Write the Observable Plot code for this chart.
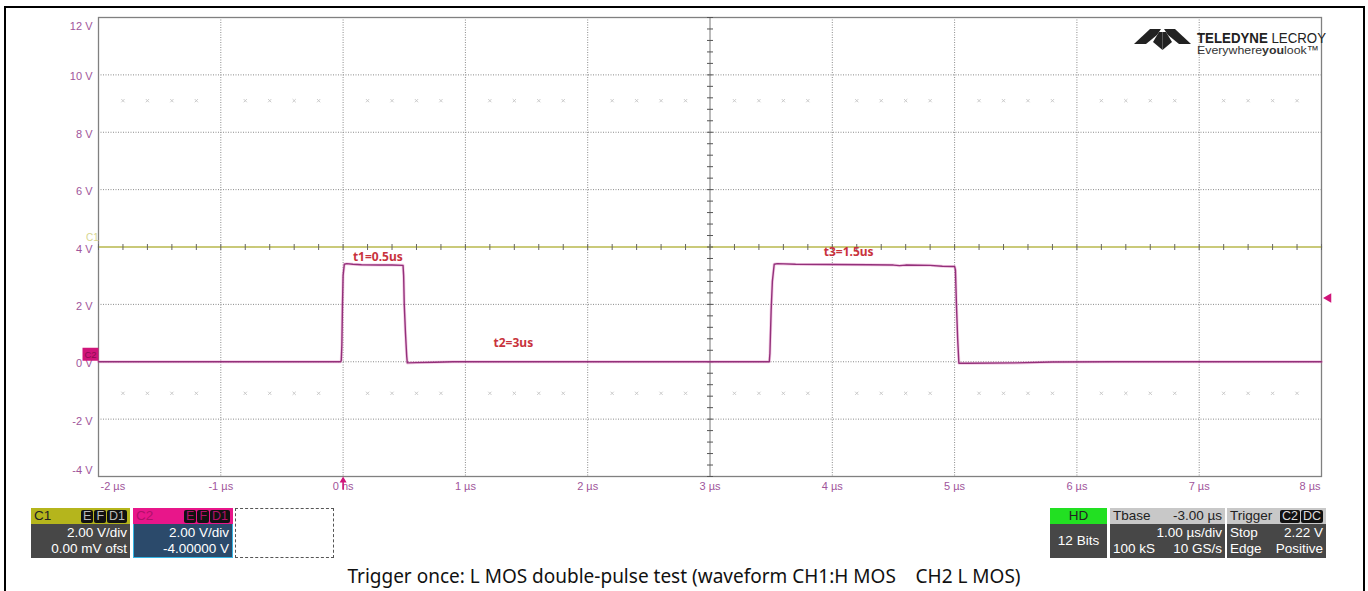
<!DOCTYPE html>
<html>
<head>
<meta charset="utf-8">
<script src="https://cdn.jsdelivr.net/npm/d3@7"></script>
<script src="https://cdn.jsdelivr.net/npm/@observablehq/plot@0.6"></script>
<style>
  body { margin: 0; background: #fff; }
  #wrap { position: relative; width: 1368px; height: 591px; overflow: hidden; background: #fff; font-family: "Liberation Sans", Arial, sans-serif; }
  #chart { position: absolute; left: 0; top: 0; }
  #frame { position: absolute; left: 4px; top: 6px; width: 1357px; height: 620px; border: 2px solid #000; }
  .box { position: absolute; top: 508px; height: 50px; box-sizing: border-box; font-size: 13.5px; color: #fff; }
  .hdr { position: absolute; left: 0; right: 0; top: 0; height: 16px; line-height: 16px; padding: 0 3px; color: #222; }
  .body { position: absolute; left: 0; right: 0; top: 16px; bottom: 0; background: #474747; padding: 1px 3px; line-height: 15.5px; }
  .r { text-align: right; }
  .tag { display: inline-block; background: #111; color: #bbb; border-radius: 2px; padding: 0 2px; margin-left: 1px; line-height: 13px; font-size: 12.5px; }
  .row { display: flex; justify-content: space-between; }
  #caption { position: absolute; left: 0; width: 1368px; top: 563px; text-align: center; font-family: "Noto Sans", sans-serif; font-size: 19px; color: #111; white-space: pre; }
</style>
</head>
<body>
<div id="wrap">
  <div id="chart"></div>
  <div id="frame"></div>

  <!-- channel boxes -->
  <div class="box" style="left:31px;width:99px;">
    <div class="hdr" style="background:#b5b51c;">C1<span style="float:right"><span class="tag">E</span><span class="tag">F</span><span class="tag">D1</span></span></div>
    <div class="body r">2.00 V/div<br>0.00 mV ofst</div>
  </div>
  <div class="box" style="left:133px;width:100px;">
    <div class="hdr" style="background:#e8168a;color:#b0106a;">C2<span style="float:right"><span class="tag" style="color:#b0106a">E</span><span class="tag" style="color:#b0106a">F</span><span class="tag" style="color:#b0106a">D1</span></span></div>
    <div class="body r" style="background:#2b4a6b;border:1px solid #35b5e5;border-top:none;">2.00 V/div<br>-4.00000 V</div>
  </div>
  <div class="box" style="left:235px;width:99px;border:1px dashed #555;"></div>

  <div class="box" style="left:1050px;width:57px;">
    <div class="hdr" style="background:#22e022;text-align:center;">HD</div>
    <div class="body" style="text-align:center;line-height:32px;">12 Bits</div>
  </div>
  <div class="box" style="left:1110px;width:115px;">
    <div class="hdr row" style="background:#c8c8c8;"><span>Tbase</span><span>-3.00 µs</span></div>
    <div class="body"><div class="r">1.00 µs/div</div><div class="row"><span>100 kS</span><span>10 GS/s</span></div></div>
  </div>
  <div class="box" style="left:1227px;width:99px;">
    <div class="hdr" style="background:#c8c8c8;">Trigger<span style="float:right"><span class="tag" style="color:#ddd">C2</span><span class="tag" style="color:#ddd">DC</span></span></div>
    <div class="body"><div class="row"><span>Stop</span><span>2.22 V</span></div><div class="row"><span>Edge</span><span>Positive</span></div></div>
  </div>

  <!-- logo -->
  <svg style="position:absolute;left:0;top:0;overflow:visible" width="1368" height="60">
    <g fill="#222">
      <polygon points="1134,44 1150,29 1161,29 1157,35 1146,44"/>
      <polygon points="1191,44 1175,29 1164,29 1168,35 1179,44"/>
      <polygon points="1159,32 1162.5,32 1162.5,50 1153,42"/>
      <polygon points="1166,32 1162.5,32 1162.5,50 1172,42"/>
    </g>
    <text x="1197" y="43" font-family="Liberation Sans, Arial" font-size="14" fill="#222" textLength="129" lengthAdjust="spacingAndGlyphs"><tspan font-weight="bold">TELEDYNE</tspan> LECROY</text>
    <text x="1197" y="54" font-family="Liberation Sans, Arial" font-size="11.5" fill="#333" textLength="122" lengthAdjust="spacingAndGlyphs">Everywhere<tspan font-weight="bold">you</tspan>look™</text>
  </svg>

  <div id="caption">Trigger once: L MOS double-pulse test (waveform CH1:H MOS    CH2 L MOS)</div>
</div>
<script>
// ---- data ----
const xTicks = [-2, -1, 0, 1, 2, 3, 4, 5, 6, 7, 8];          // µs
const yTicks = [-4, -2, 0, 2, 4, 6, 8, 10, 12];               // V

// CH1 (H MOS) trace
const c1Time = [-2, 0, 3, 5, 8];
const c1Volt = [4.0, 4.0, 4.0, 4.0, 4.0];

// CH2 (L MOS) trace
const c2Time = [-2.0, -0.5, -0.02, -0.015, -0.01, -0.005, 0.0, 0.01, 0.03, 0.08, 0.15, 0.3, 0.4, 0.49,
  0.495, 0.5, 0.51, 0.52, 0.525, 0.6, 0.75, 0.9, 2.0, 3.0, 3.485, 3.49, 3.5, 3.51, 3.525, 3.55,
  3.7, 4.0, 4.3, 4.5, 4.55, 4.6, 4.8, 4.9, 5.0, 5.007, 5.015, 5.025, 5.035, 5.1, 5.5, 5.8, 6.3, 7.0, 8.0];
const c2Volt = [0.0, 0.0, 0.0, 0.05, 0.6, 2.0, 3.0, 3.40, 3.42, 3.40, 3.38, 3.37, 3.37, 3.36,
  3.0, 2.0, 1.0, 0.2, -0.04, -0.03, -0.02, 0.0, 0.0, 0.0, 0.0, 0.3, 1.8, 2.8, 3.40, 3.42,
  3.40, 3.39, 3.38, 3.37, 3.35, 3.37, 3.36, 3.33, 3.32, 3.2, 2.0, 0.8, -0.05, -0.05, -0.04, -0.01, 0.0, 0.0, 0.0];

// annotations
const noteText = ["t1=0.5us", "t2=3us", "t3=1.5us"];
const noteX = [0.08, 1.23, 3.93];
const noteY = [3.66, 0.66, 3.81];

// trigger
const trigLevel = 2.22;
const trigTime = 0;

// graticule marker rows
const markRows = [9.1, -1.1];

// ---- build ----
const c1 = c1Time.map((t, i) => ({t, v: c1Volt[i]}));
const c2 = c2Time.map((t, i) => ({t, v: c2Volt[i]}));
const notes = noteText.map((s, i) => ({s, t: noteX[i], v: noteY[i]}));

const minorX = d3.range(xTicks[0] * 5, xTicks[xTicks.length - 1] * 5 + 1).map(k => k / 5);
const minorY = d3.range(yTicks[0] * 2.5, yTicks[yTicks.length - 1] * 2.5 + 1).map(k => k / 2.5);
const crossX = minorX.filter(d => Math.abs(d - Math.round(d)) > 1e-6);
const crosses = markRows.flatMap(v => crossX.map(t => ({t, v})));
const centerX = 3, centerY = 4;
const x0 = xTicks[0], x1 = xTicks[xTicks.length - 1];
const y0 = yTicks[0], y1 = yTicks[yTicks.length - 1];

const hTick = {draw(ctx, size) { const r = Math.sqrt(size / Math.PI); ctx.moveTo(-r, 0); ctx.lineTo(r, 0); }};
const vTick = {draw(ctx, size) { const r = Math.sqrt(size / Math.PI); ctx.moveTo(0, -r); ctx.lineTo(0, r); }};
const boxSym = {draw(ctx) { ctx.rect(-8, -6.5, 16, 13); }};
const arrowSym = {draw(ctx) { ctx.moveTo(0, -4); ctx.lineTo(3.5, 2); ctx.lineTo(-3.5, 2); ctx.closePath(); ctx.rect(-0.8, 2, 1.6, 7); }};

const lbl = "#a0559b";
const fmtX = d => d === 0 ? "0 ns" : `${d} µs`;
const fmtY = d => `${d} V`;
const ax = {tickSize: 0, fill: lbl, fontSize: 11};

const chart = Plot.plot({
  width: 1368, height: 500,
  marginLeft: 98, marginRight: 47, marginTop: 17, marginBottom: 24,
  x: {domain: [x0, x1], label: null},
  y: {domain: [y0, y1], label: null},
  style: {fontFamily: "Liberation Sans, Arial, sans-serif", fontSize: "11px", background: "transparent", overflow: "visible"},
  marks: [
    Plot.gridX({ticks: xTicks.filter(d => d !== centerX && d !== x0 && d !== x1), stroke: "#8a8a8a", strokeOpacity: 1, strokeDasharray: "1,1.5"}),
    Plot.gridY({ticks: yTicks.filter(d => d !== centerY && d !== y0 && d !== y1), stroke: "#8a8a8a", strokeOpacity: 1, strokeDasharray: "1,1.5"}),
    Plot.ruleX([centerX], {stroke: "#777", strokeWidth: 1}),
    Plot.dot(crosses, {x: "t", y: "v", symbol: "times", r: 1.6, stroke: "#c4c4c4", strokeWidth: 0.9}),
    Plot.frame({stroke: "#808080", strokeWidth: 1.3}),
    Plot.line(c1, {x: "t", y: "v", stroke: "#b8b84e", strokeWidth: 1.6}),
    Plot.dot(minorY, {x: () => centerX, y: d => d, symbol: hTick, r: 3, stroke: "#555", strokeWidth: 1}),
    Plot.dot(minorX, {x: d => d, y: () => centerY, symbol: vTick, r: 3, stroke: "#666", strokeWidth: 1}),
    Plot.line(c2, {x: "t", y: "v", stroke: "#e070b8", strokeWidth: 3, strokeOpacity: 0.35}),
    Plot.line(c2, {x: "t", y: "v", stroke: "#93307a", strokeWidth: 1.4}),
    Plot.text(notes, {x: "t", y: "v", text: "s", textAnchor: "start", fill: "#c8323c", fontWeight: "bold", fontSize: 12, fontFamily: "Noto Sans, sans-serif"}),
    Plot.axisY({...ax, ticks: yTicks.slice(1, -1), tickPadding: 6, tickFormat: fmtY, dy: 2}),
    Plot.axisY({...ax, ticks: [y1], tickPadding: 6, tickFormat: fmtY, dy: 9}),
    Plot.axisY({...ax, ticks: [y0], tickPadding: 6, tickFormat: fmtY, dy: -6}),
    Plot.axisX({...ax, ticks: xTicks.slice(1, -1), tickPadding: 6, tickFormat: fmtX}),
    Plot.axisX({...ax, ticks: [x0], tickPadding: 6, tickFormat: fmtX, textAnchor: "start", dx: 2}),
    Plot.axisX({...ax, ticks: [x1], tickPadding: 6, tickFormat: fmtX, textAnchor: "end", dx: -1}),
    Plot.text(["C1"], {x: () => x0, y: () => c1Volt[0], text: d => d, dx: -6, dy: -9, fill: "#d6d68f", fontSize: 10}),
    Plot.dot(["C2"], {x: () => x0, y: () => 0, symbol: boxSym, dx: -8, dy: -7.5, fill: "#d0157a"}),
    Plot.text(["C2"], {x: () => x0, y: () => 0, text: d => d, dx: -8, dy: -7, fill: "#8a0d52", fontSize: 9.5}),
    Plot.dot([trigLevel], {x: () => x1, y: d => d, symbol: "triangle", rotate: -90, r: 3.5, dx: 7, fill: "#d0157a"}),
    Plot.dot([trigTime], {x: d => d, y: () => y0, symbol: arrowSym, dy: 4, fill: "#d0157a"})
  ]
});
document.getElementById("chart").appendChild(chart);
</script>
</body>
</html>
